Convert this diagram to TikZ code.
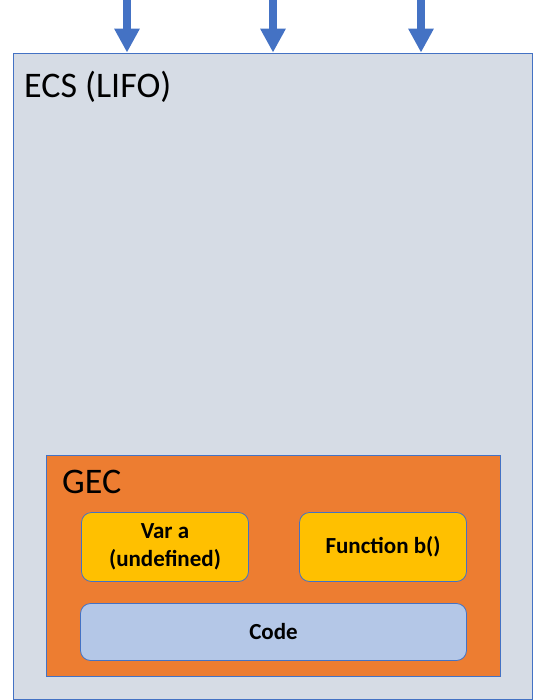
\documentclass[tikz,border=0pt]{standalone}
\usepackage{fontspec}
\setmainfont{Carlito}
\usetikzlibrary{arrows.meta}
\definecolor{stackfill}{HTML}{D6DCE5}
\definecolor{framecol}{HTML}{4472C4}
\definecolor{gecfill}{HTML}{ED7D31}
\definecolor{varfill}{HTML}{FFC000}
\definecolor{codefill}{HTML}{B4C7E7}

\tikzset{
  frame/.style={draw=framecol, line width=0.8pt, inner sep=0pt},
  slot/.style={frame, rounded corners=10pt, align=center,
    font=\fontsize{23}{28}\selectfont\bfseries},
  title/.style={anchor=base west, inner sep=0pt, font=\fontsize{36}{40}\selectfont},
  push/.style={framecol, line width=8pt, -{Triangle[width=24pt,length=24pt]}}
}

\begin{document}
\begin{tikzpicture}[x=1pt, y=-1pt]
    \useasboundingbox (0,0) rectangle (546,700);
    % stack frame
    \node [frame, fill=stackfill, minimum width=519pt, minimum height=646pt] (ecs) at (272.5,376) {};
    \node [title] (ecslabel) at (24,98) {ECS (LIFO)};
    % global execution context
    \node [frame, fill=gecfill, minimum width=454pt, minimum height=221pt] (gec) at (273,566) {};
    \node [title] (geclabel) at (62,493) {GEC};
    \node [slot, fill=varfill, minimum width=167pt, minimum height=69pt] (vara) at (165,547) {Var a\\(undefined)};
    \node [slot, fill=varfill, minimum width=167pt, minimum height=69pt] (funcb) at (383,547) {Function b()};
    \node [slot, fill=codefill, minimum width=386pt, minimum height=57pt] (code) at (273.5,632) {Code};
    % incoming pushes
    \coordinate (in1) at (127,0);
    \coordinate (in2) at (273,0);
    \coordinate (in3) at (421,0);
    \draw [push] (in1) -- (in1 |- ecs.north);
    \draw [push] (in2) -- (in2 |- ecs.north);
    \draw [push] (in3) -- (in3 |- ecs.north);
  \end{tikzpicture}
\end{document}
